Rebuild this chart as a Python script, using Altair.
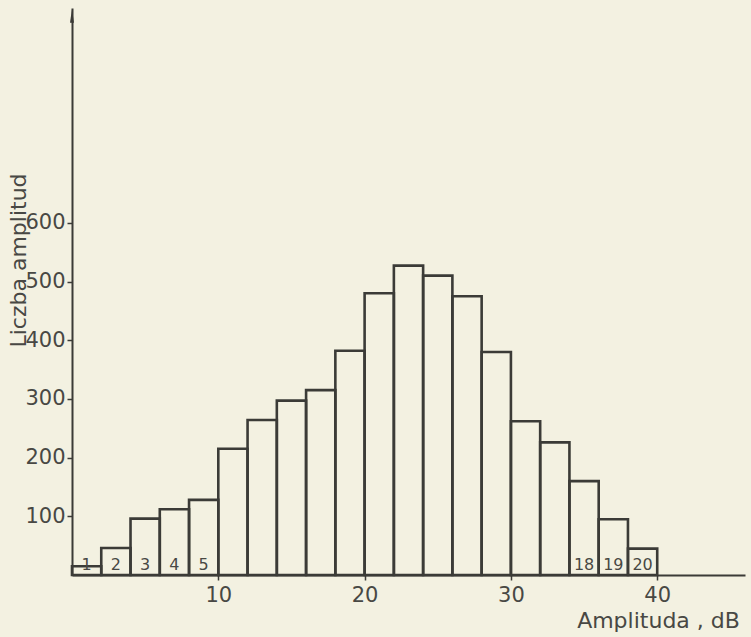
import altair as alt
import pandas as pd

# ---- data ----
bin_start = [0, 2, 4, 6, 8, 10, 12, 14, 16, 18, 20, 22, 24, 26, 28, 30, 32, 34, 36, 38]
bin_end = [2, 4, 6, 8, 10, 12, 14, 16, 18, 20, 22, 24, 26, 28, 30, 32, 34, 36, 38, 40]
counts = [15, 46, 96, 112, 128, 215, 264, 297, 315, 382,
          480, 527, 510, 475, 380, 262, 226, 160, 95, 45]
bar_labels = ["1", "2", "3", "4", "5", "", "", "", "", "", "",
              "", "", "", "", "", "", "18", "19", "20"]
y_ticks = [100, 200, 300, 400, 500, 600]
x_ticks = [10, 20, 30, 40]
x_domain = [0, 46]
y_domain = [0, 966]

BG = "#f3f1e1"
INK = "#3b3b37"
TXT = "#484844"
FONT = "DejaVu Sans"

df = pd.DataFrame({
    "start": bin_start,
    "end": bin_end,
    "count": counts,
    "label": bar_labels,
})
df["mid"] = (df["start"] + df["end"]) / 2

x_scale = alt.Scale(domain=x_domain, nice=False, zero=False)
y_scale = alt.Scale(domain=y_domain, nice=False)

bars = alt.Chart(df).mark_rect(
    fillOpacity=0, stroke=INK, strokeWidth=2.6
).encode(
    x=alt.X("start:Q", scale=x_scale,
            axis=alt.Axis(values=x_ticks, title="Amplituda , dB",
                          titleX=586, titleY=45, titleAlign="center",
                          titleBaseline="middle", labelPadding=4,
                          labelFlush=False)),
    x2="end:Q",
    y=alt.Y("count:Q", scale=y_scale,
            axis=alt.Axis(values=y_ticks, title="Liczba amplitud",
                          titleX=-54, titleY=252, titleAngle=270,
                          titleAlign="center", titleBaseline="middle",
                          labelPadding=2)),
    y2=alt.datum(0),
)

labels = alt.Chart(df).mark_text(
    font=FONT, fontSize=16, color=TXT, dy=-10, baseline="middle"
).encode(
    x=alt.X("mid:Q", scale=x_scale),
    y=alt.datum(0, scale=y_scale) if False else alt.datum(0),
    text="label:N",
)

arrow = alt.Chart(pd.DataFrame({"a": [0]})).mark_point(
    shape="M0,-1L0.3,1L-0.3,1Z", filled=True, color=INK, size=180, opacity=1,
    yOffset=8
).encode(
    x=alt.datum(x_domain[0]),
    y=alt.datum(y_domain[1]),
)

chart = alt.layer(bars, labels, arrow).properties(
    width=673, height=567,
    background=BG,
    padding={"left": 72, "top": 8, "right": 6, "bottom": 62},
    autosize=alt.AutoSizeParams(type="none"),
).configure_view(strokeWidth=0).configure_axis(
    grid=False,
    domainColor=INK, domainWidth=2,
    tickColor=INK, tickSize=5, tickWidth=1.5,
    labelFont=FONT, labelFontSize=21, labelColor=TXT,
    titleFont=FONT, titleFontSize=22, titleFontWeight="normal", titleColor=TXT,
)

chart.save("out.html", embed_options={"renderer": "svg", "actions": False})
